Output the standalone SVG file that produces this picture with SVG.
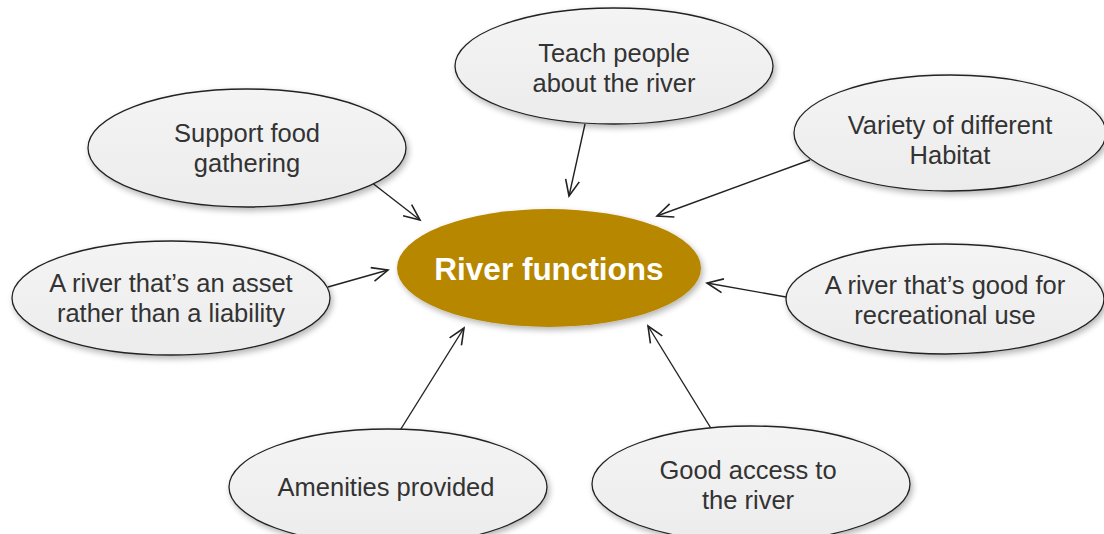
<svg xmlns="http://www.w3.org/2000/svg" width="1104" height="534" viewBox="0 0 1104 534">
<defs>
<linearGradient id="g" x1="0" y1="0" x2="0" y2="1">
<stop offset="0" stop-color="#f4f4f4"/><stop offset="1" stop-color="#ececec"/>
</linearGradient>
<filter id="sh" x="-10%" y="-10%" width="125%" height="135%">
<feGaussianBlur in="SourceAlpha" stdDeviation="3"/><feOffset dx="2" dy="3"/>
<feComponentTransfer><feFuncA type="linear" slope="0.3"/></feComponentTransfer>
<feMerge><feMergeNode/><feMergeNode in="SourceGraphic"/></feMerge>
</filter>
<marker id="a" markerWidth="20" markerHeight="16" refX="17" refY="8" orient="auto" markerUnits="userSpaceOnUse">
<path d="M1,1 L17,8 L1,15" fill="none" stroke="#222" stroke-width="1.6"/>
</marker>
</defs>
<style>
.n{fill:url(#g);stroke:#222;stroke-width:1.3;filter:url(#sh)}
.t{font-family:"Liberation Sans",Arial,sans-serif;font-size:25.5px;fill:#333;text-anchor:middle}
.c{stroke:#222;stroke-width:1.4;fill:none;marker-end:url(#a)}
</style>
<rect width="1104" height="534" fill="#fff"/>
<g id="connectors">
<line class="c" x1="585" y1="124" x2="569" y2="196"/>
<line class="c" x1="371" y1="182" x2="420" y2="220"/>
<line class="c" x1="810" y1="160" x2="657" y2="216"/>
<line class="c" x1="328" y1="287" x2="388" y2="270"/>
<line class="c" x1="786" y1="297" x2="707" y2="283"/>
<line class="c" x1="399" y1="432" x2="464" y2="328"/>
<line class="c" x1="712" y1="430" x2="648" y2="326"/>
</g>
<g id="center">
<ellipse cx="549" cy="268" rx="152" ry="59" fill="#b88700" filter="url(#sh)"/>
<text x="549" y="280" font-family="'Liberation Sans',Arial,sans-serif" font-size="31.5" font-weight="bold" fill="#fff" text-anchor="middle">River functions</text>
</g>
<g id="teach">
<ellipse class="n" cx="614" cy="66" rx="159" ry="58"/>
<text class="t" x="614" y="62">Teach people</text>
<text class="t" x="614" y="92">about the river</text>
</g>
<g id="food">
<ellipse class="n" cx="247" cy="148" rx="159" ry="59"/>
<text class="t" x="247" y="142">Support food</text>
<text class="t" x="247" y="172">gathering</text>
</g>
<g id="habitat">
<ellipse class="n" cx="950" cy="133" rx="156" ry="58"/>
<text class="t" x="950" y="134">Variety of different</text>
<text class="t" x="950" y="164">Habitat</text>
</g>
<g id="asset">
<ellipse class="n" cx="171" cy="298" rx="159" ry="57"/>
<text class="t" x="171" y="292">A river that’s an asset</text>
<text class="t" x="171" y="322">rather than a liability</text>
</g>
<g id="recreational">
<ellipse class="n" cx="945" cy="299" rx="159" ry="55"/>
<text class="t" x="945" y="294">A river that’s good for</text>
<text class="t" x="945" y="324">recreational use</text>
</g>
<g id="amenities">
<ellipse class="n" cx="388" cy="487" rx="159" ry="58"/>
<text class="t" x="386" y="496">Amenities provided</text>
</g>
<g id="access">
<ellipse class="n" cx="751" cy="484" rx="159" ry="58"/>
<text class="t" x="748" y="479">Good access to</text>
<text class="t" x="748" y="509">the river</text>
</g>
</svg>
